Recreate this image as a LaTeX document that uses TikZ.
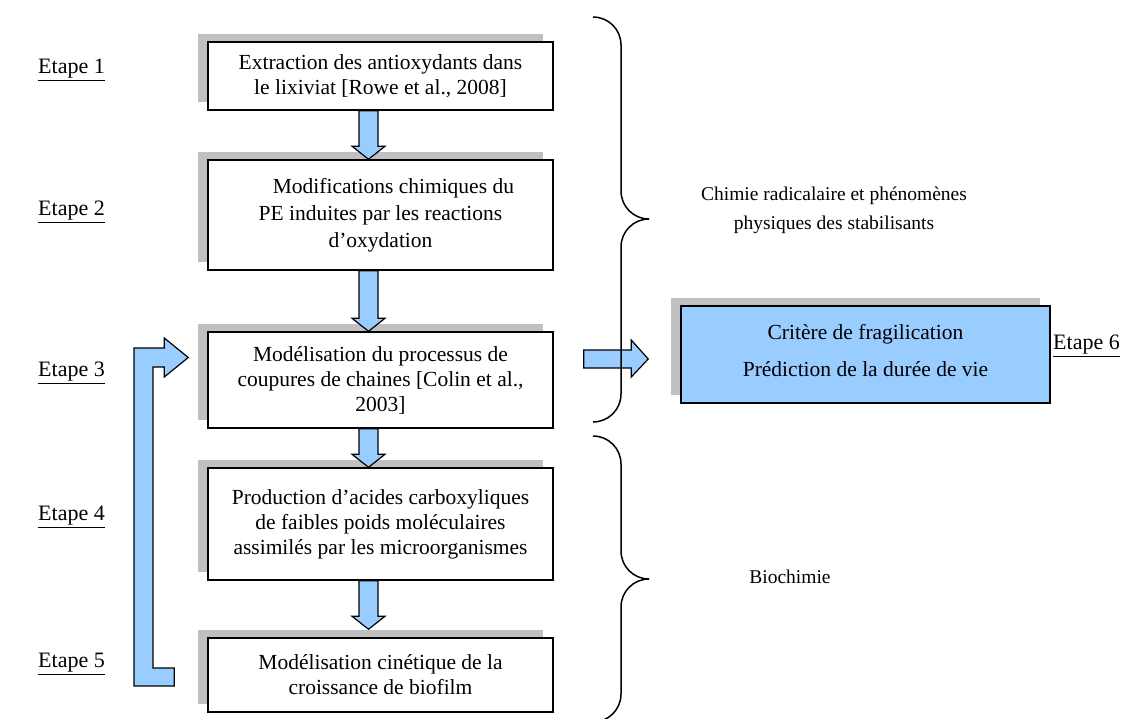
\documentclass[tikz,border=0pt]{standalone}
\usepackage{fontspec}
\setmainfont{Liberation Serif}
\usetikzlibrary{calc,shadows}
\definecolor{boxblue}{HTML}{99CCFF}
\definecolor{shadowgray}{HTML}{C0C0C0}
\tikzset{
  stepbox/.style={draw=black, line width=1.5pt, fill=white, minimum width=345, minimum height=#1,
    align=center, inner sep=2pt, font=\fontsize{21.5}{25}\selectfont,
    drop shadow={shadow xshift=-10pt, shadow yshift=8pt, fill=shadowgray, opacity=1}},
  blockarrow/.style={draw=black, line width=1.2pt, fill=boxblue, line join=miter},
  bracestyle/.style={draw=black, line width=1.5pt},
  etape/.style={font=\fontsize{22}{25}\selectfont, anchor=west, inner sep=0pt},
  sidetext/.style={font=\fontsize{19.5}{29}\selectfont, align=center, inner sep=0pt}
}
\newcommand\blkdown[4]{%
  \draw[blockarrow] let \p1=(#1.south), \p2=(#2.north) in
    (#3-9.5pt,\y1) -- (#3+9.5pt,\y1) -- (#3+9.5pt,\y2+#4+13pt) -- (#3+16.5pt,\y2+#4+13pt)
    -- (#3,\y2+#4) -- (#3-16.5pt,\y2+#4+13pt) -- (#3-9.5pt,\y2+#4+13pt) -- cycle;}
\begin{document}
\begin{tikzpicture}[x=1pt,y=-1pt]
\useasboundingbox (0,0) rectangle (1122,718);

% step boxes
\node[stepbox=68] (b1) at (380.5,76) {Extraction des antioxydants dans\\le lixiviat [Rowe et al., 2008]};
\node[stepbox=110] (b2) at (380.5,215) {\hspace{1.2em}Modifications chimiques du\\[2pt]PE induites par les reactions\\[2pt]d’oxydation};
\node[stepbox=96] (b3) at (380.5,380) {Modélisation du processus de\\coupures de chaines [Colin et al.,\\2003]};
\node[stepbox=112] (b4) at (380.5,524) {Production d’acides carboxyliques\\de faibles poids moléculaires\\assimilés par les microorganismes};
\node[stepbox=74] (b5) at (380.5,675) {Modélisation cinétique de la\\croissance de biofilm};
\node[stepbox=97, fill=boxblue, minimum width=369] (b6) at (865.5,354.5) {\raisebox{4pt}{Critère de fragilication}\\[8pt]Prédiction de la durée de vie\rule[-8pt]{0pt}{8pt}};

% step labels
\node[etape] (e1) at (38,70) {\underline{Etape 1}};
\node[etape] (e2) at (38,212) {\underline{Etape 2}};
\node[etape] (e3) at (38,373) {\underline{Etape 3}};
\node[etape] (e4) at (38,517) {\underline{Etape 4}};
\node[etape] (e5) at (38,664) {\underline{Etape 5}};
\node[etape] (e6) at (1053,346) {\underline{Etape 6}};

% side texts
\node[sidetext] (t1) at (834,210) {Chimie radicalaire et phénomènes\\physiques des stabilisants};
\node[sidetext] (t2) at (790,577) {Biochimie};

% down arrows
\blkdown{b1}{b2}{368.5pt}{0pt}
\blkdown{b2}{b3}{368.5pt}{0pt}
\blkdown{b3}{b4}{368.5pt}{0pt}
\blkdown{b4}{b5}{368.5pt}{8pt}

% loop-back arrow from step 5 to step 3
\draw[blockarrow] let \p1=(b5.west), \p2=(b3.west) in
  (134pt,\y1-11pt) -- (\x1-33pt,\y1-11pt) -- (\x1-33pt,\y1+7pt) -- (153pt,\y1+7pt)
  -- (153pt,\y2+13pt) -- (\x2-43pt,\y2+13pt) -- (\x2-43pt,\y2+3pt) -- (\x2-19pt,\y2+22.5pt)
  -- (\x2-43pt,\y2+42pt) -- (\x2-43pt,\y2+32pt) -- (134pt,\y2+32pt) -- cycle;

% arrow to step 6
\draw[blockarrow] let \p1=(b3.east), \p2=(b6.west) in
  (\x1+30pt,\y1+30pt) -- (\x2-49pt,\y1+30pt) -- (\x2-49pt,\y1+40pt) -- (\x2-32pt,\y1+21pt)
  -- (\x2-49pt,\y1+3pt) -- (\x2-49pt,\y1+12pt) -- (\x1+30pt,\y1+12pt) -- cycle;

% braces
\draw[bracestyle] (593,17) .. controls (608.5,17) and (621,29.5) .. (621,45) -- (621,191)
  .. controls (621,206.5) and (633.5,219) .. (649,219)
  .. controls (633.5,219) and (621,231.5) .. (621,247) -- (621,394)
  .. controls (621,409.5) and (608.5,422) .. (593,422);
\draw[bracestyle] (593,436) .. controls (608.5,436) and (621,448.5) .. (621,464) -- (621,551)
  .. controls (621,566.5) and (633.5,579) .. (649,579)
  .. controls (633.5,579) and (621,591.5) .. (621,607) -- (621,694)
  .. controls (621,709.5) and (608.5,722) .. (593,722);
\end{tikzpicture}
\end{document}
